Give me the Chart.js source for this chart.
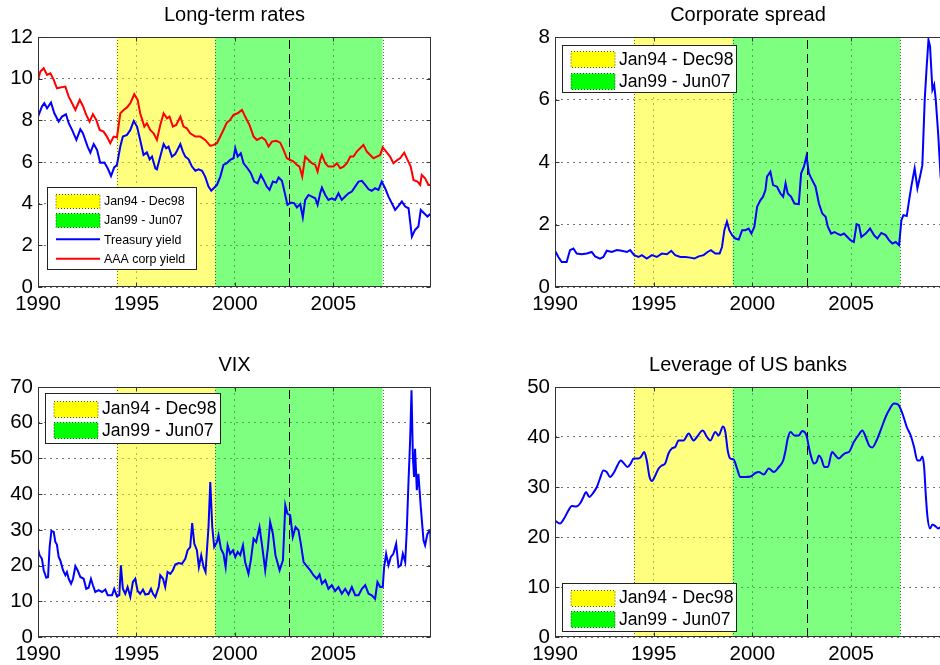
<!DOCTYPE html>
<html>
<head>
<meta charset="utf-8">
<title>Long-term rates, corporate spread, VIX and leverage</title>
<script src="https://cdn.jsdelivr.net/npm/chart.js"></script>
<style>
  html, body { margin: 0; padding: 0; background: #fff; overflow: hidden; }
  #page { position: relative; width: 940px; height: 665px; overflow: hidden; }
  canvas { position: absolute; }
</style>
</head>
<body>
<div id="page">
  <canvas id="rates" width="470" height="330" style="left:0;top:0"></canvas>
  <canvas id="spread" width="434" height="330" style="left:517px;top:0"></canvas>
  <canvas id="vix" width="470" height="330" style="left:0;top:350px"></canvas>
  <canvas id="leverage" width="434" height="330" style="left:517px;top:350px"></canvas>
</div>
<script>
// ---- data (decimal years) ----
const yearTicks = [1990, 1995, 2000, 2005];
const periodLabels = ["Jan94 - Dec98", "Jan99 - Jun07"];
const periodStart = [1994, 1999];
const periodEnd = [1999, 2007.5];
const breakDate = 2002.75;

const treasuryDates = [1990.00,1990.20,1990.32,1990.46,1990.66,1990.83,1991.05,1991.22,1991.42,1991.56,
  1991.73,1991.95,1992.15,1992.28,1992.52,1992.66,1992.83,1993.00,1993.16,1993.37,
  1993.54,1993.71,1993.87,1994.01,1994.18,1994.31,1994.52,1994.69,1994.86,1995.03,
  1995.19,1995.36,1995.53,1995.67,1995.79,1995.96,1996.04,1996.21,1996.38,1996.51,
  1996.63,1996.80,1996.97,1997.06,1997.23,1997.36,1997.48,1997.65,1997.82,1997.99,
  1998.16,1998.33,1998.49,1998.66,1998.80,1998.92,1999.09,1999.26,1999.42,1999.59,
  1999.76,1999.93,2000.02,2000.14,2000.30,2000.44,2000.64,2000.81,2000.98,2001.15,
  2001.32,2001.46,2001.62,2001.76,2001.93,2002.10,2002.22,2002.39,2002.50,2002.67,
  2002.84,2003.01,2003.15,2003.32,2003.45,2003.57,2003.74,2003.91,2004.08,2004.20,
  2004.33,2004.42,2004.59,2004.75,2004.92,2005.09,2005.26,2005.43,2005.60,2005.77,
  2005.94,2006.11,2006.28,2006.45,2006.62,2006.79,2006.95,2007.12,2007.29,2007.46,
  2007.63,2007.80,2007.97,2008.14,2008.31,2008.48,2008.65,2008.82,2008.99,2009.15,
  2009.32,2009.44,2009.61,2009.78,2009.97];
const treasuryYield = [8.18,8.66,8.82,8.58,8.86,8.34,7.94,8.18,8.29,7.86,
  7.54,7.06,7.57,7.38,6.74,6.45,6.86,6.58,5.97,5.98,
  5.70,5.33,5.74,5.86,6.74,7.22,7.30,7.54,7.97,7.70,
  7.06,6.34,6.46,6.13,6.26,5.70,5.65,6.26,6.86,6.66,
  6.74,6.26,6.38,6.54,6.86,6.50,6.26,6.13,5.78,5.58,
  5.65,5.58,5.30,4.82,4.62,4.74,4.90,5.30,5.86,5.94,
  6.10,6.18,6.66,6.26,6.42,5.94,5.70,5.46,5.06,4.98,
  5.38,5.14,4.82,4.66,5.06,5.01,5.26,5.10,4.66,3.94,
  4.05,4.02,3.82,3.98,3.34,4.18,4.42,4.34,4.26,3.94,
  4.50,4.77,4.42,4.18,4.26,4.18,4.50,4.18,4.34,4.50,
  4.58,4.82,5.06,5.10,4.90,4.69,4.62,4.74,4.66,5.06,
  4.74,4.34,4.02,3.70,3.89,4.10,3.86,3.78,2.42,2.74,
  2.90,3.70,3.54,3.38,3.54];

const aaaDates = [1990.00,1990.12,1990.29,1990.46,1990.63,1990.80,1990.96,1991.13,1991.39,1991.56,
  1991.73,1991.90,1992.12,1992.28,1992.45,1992.62,1992.79,1992.96,1993.13,1993.33,
  1993.50,1993.67,1993.84,1994.01,1994.18,1994.35,1994.52,1994.69,1994.89,1995.06,
  1995.19,1995.40,1995.53,1995.70,1995.87,1996.04,1996.21,1996.38,1996.55,1996.68,
  1996.85,1997.02,1997.23,1997.39,1997.56,1997.73,1997.99,1998.24,1998.49,1998.75,
  1998.92,1999.09,1999.34,1999.59,1999.76,1999.93,2000.14,2000.36,2000.52,2000.74,
  2000.95,2001.12,2001.37,2001.54,2001.71,2001.88,2002.10,2002.30,2002.47,2002.64,
  2002.81,2002.98,2003.15,2003.28,2003.42,2003.57,2003.74,2003.91,2004.08,2004.20,
  2004.33,2004.42,2004.59,2004.75,2005.01,2005.18,2005.35,2005.52,2005.69,2005.86,
  2006.02,2006.19,2006.36,2006.53,2006.70,2006.87,2007.04,2007.21,2007.38,2007.51,
  2007.68,2007.88,2008.05,2008.26,2008.39,2008.60,2008.77,2008.93,2009.07,2009.27,
  2009.41,2009.49,2009.66,2009.83,2009.97];
const aaaYield = [9.94,10.34,10.50,10.18,10.26,9.94,9.54,9.58,9.62,9.14,
  8.82,8.50,8.98,8.69,8.26,7.94,8.30,8.02,7.54,7.46,
  7.22,6.90,7.22,7.18,8.34,8.50,8.62,8.82,9.25,8.98,
  8.34,7.70,7.86,7.54,7.38,7.06,7.78,8.34,8.10,8.18,
  7.70,7.78,8.18,7.70,7.62,7.38,7.22,7.22,7.06,6.77,
  6.82,6.90,7.38,7.89,8.02,8.26,8.34,8.50,8.18,7.78,
  7.22,7.06,7.18,7.06,6.74,6.98,7.02,6.93,6.58,6.18,
  6.10,6.02,5.86,5.78,5.30,6.26,6.10,5.94,5.86,5.54,
  6.10,6.34,5.94,5.78,5.78,5.94,5.70,5.78,5.94,6.26,
  6.26,6.50,6.66,6.82,6.50,6.34,6.18,6.26,6.34,6.70,
  6.50,6.26,5.94,6.10,6.18,6.45,6.10,5.78,5.14,5.06,
  4.90,5.38,5.22,4.90,4.90];

const spreadDates = [1990.00,1990.17,1990.34,1990.59,1990.76,1990.93,1991.10,1991.35,1991.61,1991.86,
  1992.03,1992.28,1992.45,1992.62,1992.88,1993.13,1993.38,1993.64,1993.81,1994.01,
  1994.23,1994.40,1994.65,1994.91,1995.16,1995.41,1995.67,1995.89,1996.09,1996.35,
  1996.60,1996.85,1997.06,1997.28,1997.53,1997.73,1997.90,1998.12,1998.34,1998.46,
  1998.58,1998.71,1998.83,1998.97,1999.14,1999.31,1999.48,1999.64,1999.81,1999.95,
  2000.10,2000.24,2000.41,2000.54,2000.66,2000.74,2000.91,2001.05,2001.25,2001.42,
  2001.56,2001.68,2001.79,2001.96,2002.13,2002.35,2002.47,2002.61,2002.74,2002.86,
  2003.03,2003.20,2003.37,2003.54,2003.71,2003.82,2003.99,2004.16,2004.30,2004.47,
  2004.64,2004.81,2004.97,2005.14,2005.28,2005.40,2005.52,2005.74,2005.96,2006.16,
  2006.33,2006.53,2006.75,2006.92,2007.09,2007.26,2007.43,2007.55,2007.65,2007.82,
  2007.94,2008.05,2008.22,2008.36,2008.49,2008.61,2008.73,2008.83,2008.92,2009.00,
  2009.12,2009.21,2009.29,2009.41,2009.54];
const corpSpread = [1.16,0.96,0.80,0.80,1.18,1.23,1.07,1.05,1.07,1.12,
  0.98,0.91,0.96,1.16,1.12,1.18,1.16,1.12,1.18,1.02,
  0.96,1.02,0.91,1.02,0.96,1.07,1.05,1.16,1.02,0.96,
  0.96,0.94,0.91,0.98,1.02,1.12,1.18,1.07,1.07,1.28,
  1.82,2.09,1.82,1.66,1.55,1.52,1.82,1.82,1.87,1.71,
  1.93,2.57,2.78,2.89,3.10,3.53,3.69,3.26,3.21,2.99,
  2.89,3.32,2.99,2.89,2.67,2.65,3.64,3.85,4.19,3.64,
  3.42,3.21,2.67,2.35,2.25,1.93,1.71,1.76,1.71,1.66,
  1.71,1.60,1.50,1.44,2.01,1.98,1.60,1.71,1.87,1.66,
  1.55,1.73,1.66,1.50,1.39,1.44,1.34,2.14,2.30,2.27,
  2.78,3.21,3.80,3.16,3.53,3.90,5.99,7.06,7.91,7.70,
  6.31,6.47,5.99,4.92,3.48];

const vixDates = [1990.00,1990.08,1990.20,1990.29,1990.42,1990.51,1990.59,1990.68,1990.80,1990.88,
  1990.96,1991.05,1991.13,1991.27,1991.39,1991.47,1991.56,1991.68,1991.78,1991.90,
  1992.01,1992.15,1992.32,1992.45,1992.57,1992.69,1992.79,1992.91,1993.08,1993.25,
  1993.42,1993.54,1993.76,1993.87,1994.01,1994.13,1994.21,1994.31,1994.43,1994.55,
  1994.69,1994.82,1994.94,1995.06,1995.19,1995.33,1995.45,1995.62,1995.74,1995.84,
  1995.96,1996.13,1996.21,1996.35,1996.46,1996.58,1996.72,1996.85,1996.97,1997.14,
  1997.31,1997.48,1997.60,1997.73,1997.83,1997.94,1998.07,1998.17,1998.29,1998.41,
  1998.51,1998.58,1998.66,1998.75,1998.85,1998.95,1999.09,1999.17,1999.29,1999.42,
  1999.53,1999.63,1999.76,1999.90,2000.02,2000.14,2000.27,2000.41,2000.52,2000.69,
  2000.81,2000.95,2001.08,2001.25,2001.37,2001.54,2001.68,2001.79,2001.93,2002.06,
  2002.27,2002.44,2002.56,2002.67,2002.81,2002.94,2003.08,2003.23,2003.35,2003.49,
  2003.66,2003.82,2003.99,2004.16,2004.30,2004.42,2004.59,2004.75,2004.92,2005.09,
  2005.26,2005.43,2005.60,2005.77,2005.94,2006.11,2006.28,2006.45,2006.62,2006.79,
  2006.95,2007.12,2007.24,2007.38,2007.51,2007.58,2007.68,2007.80,2007.92,2008.05,
  2008.19,2008.31,2008.43,2008.53,2008.65,2008.73,2008.82,2008.90,2008.97,2009.04,
  2009.10,2009.15,2009.24,2009.32,2009.44,2009.58,2009.66,2009.78,2009.92,2009.97];
const vixLevel = [24.7,22.9,21.9,18.7,16.6,16.8,25.2,29.7,29.4,26.6,
  25.9,22.4,21.5,18.7,17.3,18.2,16.3,14.9,16.3,19.8,
  18.7,16.8,16.3,13.5,13.8,16.3,14.5,12.6,13.1,12.6,
  13.3,11.7,11.7,13.5,11.4,11.7,20.1,13.5,12.1,14.0,
  11.2,15.4,16.3,12.9,12.1,13.3,11.9,12.1,13.5,12.1,
  11.2,14.0,17.3,16.3,14.0,18.2,17.7,18.7,20.3,20.7,
  20.5,21.9,24.3,25.2,31.9,26.1,24.3,19.6,22.9,19.6,
  18.2,24.3,30.8,43.4,30.8,25.2,26.6,28.5,24.7,23.3,
  19.6,25.7,23.3,24.3,22.4,23.8,22.9,25.7,21.0,17.7,
  21.5,27.5,26.6,30.8,26.1,18.7,25.2,32.2,28.9,22.9,
  18.7,21.5,36.9,34.5,34.1,28.0,30.8,29.9,26.1,21.0,
  19.8,18.7,17.3,16.3,17.5,14.9,15.9,13.5,14.5,12.9,
  14.0,12.1,13.5,11.9,14.0,11.7,11.7,13.5,14.5,12.1,
  11.7,10.7,15.4,14.0,14.0,19.6,23.3,20.1,22.4,23.3,
  26.1,19.6,20.1,23.3,21.0,29.9,43.9,55.1,69.1,50.4,
  44.8,52.7,41.1,45.7,36.4,27.1,25.7,28.9,29.9,22.4];

const leverageDates = [1990.00,1990.25,1990.46,1990.68,1990.85,1991.07,1991.27,1991.44,1991.57,1991.74,
  1991.91,1992.12,1992.28,1992.45,1992.62,1992.79,1993.00,1993.16,1993.33,1993.50,
  1993.67,1993.84,1993.98,1994.23,1994.35,1994.52,1994.65,1994.79,1994.91,1995.08,
  1995.25,1995.41,1995.58,1995.75,1995.92,1996.09,1996.26,1996.51,1996.77,1997.02,
  1997.19,1997.48,1997.70,1997.87,1998.12,1998.29,1998.51,1998.63,1998.75,1998.88,
  1999.05,1999.22,1999.39,1999.64,1999.90,2000.15,2000.32,2000.58,2000.83,2001.08,
  2001.34,2001.56,2001.68,2001.79,2001.93,2002.13,2002.35,2002.52,2002.74,2002.86,
  2002.98,2003.11,2003.25,2003.37,2003.49,2003.65,2003.82,2004.04,2004.21,2004.38,
  2004.55,2004.72,2004.89,2005.14,2005.36,2005.57,2005.74,2005.91,2006.07,2006.29,
  2006.53,2006.75,2006.97,2007.17,2007.38,2007.60,2007.82,2008.02,2008.19,2008.36,
  2008.49,2008.61,2008.70,2008.78,2008.87,2009.00,2009.12,2009.29,2009.41,2009.54];
const bankLeverage = [23.3,22.7,23.7,25.3,26.2,26.1,26.7,28.0,29.0,28.0,
  28.7,30.0,31.7,33.3,33.0,32.0,33.0,34.3,35.3,34.7,
  34.0,34.7,35.7,35.7,36.0,37.0,35.3,32.0,31.2,32.3,
  33.7,34.3,34.7,36.7,37.7,38.0,39.3,39.3,40.7,39.3,
  40.0,41.3,40.0,39.3,41.0,40.3,42.1,41.0,37.3,35.7,
  35.5,33.7,32.0,32.0,32.1,32.8,33.0,32.5,33.7,33.0,
  34.0,35.3,37.3,39.7,41.0,40.3,40.3,41.2,40.3,38.0,
  36.0,34.7,35.0,36.3,35.7,34.0,34.0,37.0,36.3,35.7,
  36.3,36.8,37.0,39.0,40.3,41.3,40.0,38.3,37.9,39.3,
  41.7,44.0,45.7,46.7,46.5,44.7,42.0,40.3,38.0,35.3,
  35.3,36.1,34.0,28.7,24.0,21.7,22.5,22.1,21.7,22.0];

// ---- drawing helpers ----
const FONT = '"Liberation Sans", Arial, Helvetica, sans-serif';
const shade = ["rgba(255,255,0,0.5)", "rgba(0,255,0,0.5)"];
const patchColor = ["#ffff00", "#00ff00"];

function points(xs, ys) {
  return xs.map((x, i) => ({ x: x, y: ys[i] }));
}

function seg(ctx, x0, y0, x1, y1) {
  ctx.beginPath();
  ctx.moveTo(x0, y0);
  ctx.lineTo(x1, y1);
  ctx.stroke();
}

// shaded periods, break line, box, inner ticks, legend and title (MATLAB look)
const matlabLook = {
  id: "matlabLook",
  beforeDatasetsDraw(chart) {
    const ctx = chart.ctx, a = chart.chartArea, x = chart.scales.x;
    ctx.save();
    ctx.beginPath();
    ctx.rect(a.left, a.top, a.right - a.left, a.bottom - a.top);
    ctx.clip();
    periodStart.forEach((s, i) => {
      const x0 = x.getPixelForValue(s), x1 = x.getPixelForValue(periodEnd[i]);
      ctx.fillStyle = shade[i];
      ctx.fillRect(x0, a.top, x1 - x0, a.bottom - a.top);
    });
    ctx.strokeStyle = "rgba(0,0,0,0.6)";
    ctx.lineWidth = 1;
    ctx.setLineDash([1, 2]);
    [periodStart[0], periodEnd[0], periodEnd[1]].forEach(v => {
      const px = Math.round(x.getPixelForValue(v)) + 0.5;
      seg(ctx, px, a.top, px, a.bottom);
    });
    ctx.strokeStyle = "#000";
    ctx.setLineDash([9, 5]);
    const bx = Math.round(x.getPixelForValue(breakDate)) + 0.5;
    seg(ctx, bx, a.bottom, bx, a.top);
    ctx.restore();
  },
  afterDatasetsDraw(chart, args, opts) {
    const ctx = chart.ctx, a = chart.chartArea;
    const xs = chart.scales.x, ys = chart.scales.y;
    const L = Math.round(a.left) + 0.5, R = Math.round(a.right) - 0.5;
    const T = Math.round(a.top) + 0.5, B = Math.round(a.bottom) - 0.5;
    ctx.save();
    // axes box
    ctx.strokeStyle = "#333";
    ctx.lineWidth = 1;
    ctx.setLineDash([]);
    ctx.strokeRect(L, T, R - L, B - T);
    // inward tick marks on all four sides
    ys.ticks.forEach(t => {
      const py = Math.round(ys.getPixelForValue(t.value)) + 0.5;
      seg(ctx, L, py, L + 4, py);
      seg(ctx, R, py, R - 4, py);
    });
    xs.ticks.forEach(t => {
      const px = Math.round(xs.getPixelForValue(t.value)) + 0.5;
      seg(ctx, px, B, px, B - 4);
      seg(ctx, px, T, px, T + 4);
    });
    // title
    ctx.fillStyle = "#000";
    ctx.font = "20px " + FONT;
    ctx.textAlign = "center";
    ctx.textBaseline = "alphabetic";
    ctx.fillText(opts.title, (a.left + a.right) / 2 - opts.titleShift, a.top - 16);
    // legend box inside the axes
    const lg = opts.legend;
    const items = periodLabels.map((t, i) => ({ kind: "patch", color: patchColor[i], text: t }));
    chart.data.datasets.forEach(d => items.push({ kind: "line", color: d.borderColor, text: d.label }));
    if (!lg.lines) items.length = periodLabels.length;
    const bx = Math.round(a.left + lg.x) + 0.5, by = Math.round(a.top + lg.y) + 0.5;
    ctx.fillStyle = "#fff";
    ctx.fillRect(bx, by, lg.w, lg.h);
    ctx.strokeStyle = "#222";
    ctx.strokeRect(bx, by, lg.w, lg.h);
    ctx.font = lg.size + "px " + FONT;
    ctx.textAlign = "left";
    ctx.textBaseline = "middle";
    items.forEach((it, i) => {
      const cy = by + lg.first + i * lg.row;
      const px = bx + 8.5;
      if (it.kind === "patch") {
        const top = Math.round(cy - lg.patch / 2) + 0.5;
        ctx.fillStyle = it.color;
        ctx.fillRect(px, top, 44, lg.patch);
        ctx.strokeStyle = "rgba(0,0,0,0.7)";
        ctx.setLineDash([1, 2]);
        ctx.strokeRect(px, top, 44, lg.patch);
        ctx.setLineDash([]);
      } else {
        ctx.strokeStyle = it.color;
        ctx.lineWidth = 2;
        seg(ctx, px, cy, px + 44, cy);
        ctx.lineWidth = 1;
      }
      ctx.fillStyle = "#000";
      ctx.fillText(it.text, px + 48, cy + 1);
    });
    ctx.restore();
  }
};

function makeChart(id, datasets, yMax, yStep, padRight, title, titleShift, legend) {
  return new Chart(document.getElementById(id), {
    type: "line",
    data: { datasets: datasets },
    plugins: [matlabLook],
    options: {
      responsive: false,
      animation: false,
      events: [],
      layout: { padding: { left: 0, top: 37, right: padRight, bottom: 0 } },
      elements: { point: { radius: 0 }, line: { borderWidth: 2 } },
      plugins: {
        legend: { display: false },
        tooltip: { enabled: false },
        matlabLook: { title: title, titleShift: titleShift, legend: legend },
      },
      scales: {
        x: {
          type: "linear",
          min: 1990,
          max: 2009.96,
          afterBuildTicks: s => { s.ticks = yearTicks.map(v => ({ value: v })); },
          afterFit: s => { s.height = 43; },
          grid: { color: "rgba(0,0,0,0.55)", drawTicks: false },
          border: { display: false, dash: [2, 4] },
          ticks: {
            callback: v => String(v),
            color: "#000",
            font: { family: FONT, size: 20.5 },
            padding: 5,
            maxRotation: 0,
            autoSkip: false,
          },
        },
        y: {
          min: 0,
          max: yMax,
          afterFit: s => { s.width = 38; },
          grid: { color: "rgba(0,0,0,0.55)", drawTicks: false },
          border: { display: false, dash: [2, 4] },
          ticks: {
            stepSize: yStep,
            color: "#000",
            font: { family: FONT, size: 20.5 },
            padding: 5,
          },
        },
      },
    },
  });
}

function blueLine(label, xs, ys, smooth) {
  return {
    label: label,
    data: points(xs, ys),
    borderColor: "#0000ff",
    backgroundColor: "#0000ff",
    tension: 0,
    cubicInterpolationMode: smooth ? "monotone" : "default",
  };
}

makeChart("rates", [
  blueLine("Treasury yield", treasuryDates, treasuryYield),
  { label: "AAA corp yield", data: points(aaaDates, aaaYield), borderColor: "#ff0000", backgroundColor: "#ff0000", tension: 0 },
], 12, 2, 39, "Long-term rates", 0,
  { x: 9, y: 150, w: 149, h: 82, first: 13, row: 19.4, patch: 14, size: 12.4, lines: true });

makeChart("spread", [blueLine("Corporate spread", spreadDates, corpSpread)],
  8, 2, 2, "Corporate spread", 4,
  { x: 7, y: 8, w: 174, h: 47, first: 13.5, row: 21.7, patch: 16, size: 17.6, lines: false });

makeChart("vix", [blueLine("VIX", vixDates, vixLevel)],
  70, 10, 39, "VIX", 0,
  { x: 7, y: 6, w: 175, h: 50, first: 15, row: 21.7, patch: 16, size: 17.6, lines: false });

makeChart("leverage", [blueLine("Leverage of US banks", leverageDates, bankLeverage, true)],
  50, 10, 2, "Leverage of US banks", 4,
  { x: 7, y: 196, w: 174, h: 48, first: 14, row: 21.7, patch: 16, size: 17.6, lines: false });
</script>
</body>
</html>
